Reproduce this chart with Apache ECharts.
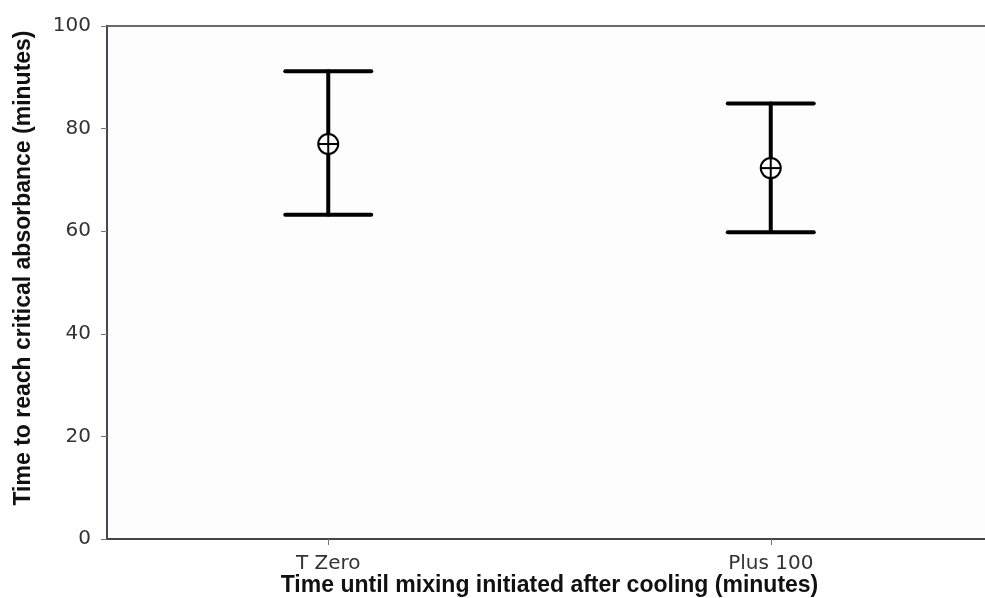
<!DOCTYPE html>
<html>
<head>
<meta charset="utf-8">
<script src="https://cdn.jsdelivr.net/npm/echarts@6/dist/echarts.min.js"></script>
<style>
  html, body { margin: 0; padding: 0; background: #ffffff; }
  #chart { width: 985px; height: 598px; }
</style>
</head>
<body>
<div id="chart"></div>
<script>
// Group labels along the horizontal axis
const categories = ['T Zero', 'Plus 100'];
// Mean time (minutes) and the error bar limits for each group
const means = [77.0, 72.3];
const upper = [91.2, 84.9];
const lower = [63.2, 59.8];
// Value axis ticks
const yTicks = [0, 20, 40, 60, 80, 100];

const errorData = categories.map((c, i) => [i, lower[i], upper[i]]);
const meanData = categories.map((c, i) => [i, means[i]]);

const chart = echarts.init(document.getElementById('chart'), null, { renderer: 'canvas' });

const option = {
  backgroundColor: '#ffffff',
  animation: false,
  grid: {
    left: 107, top: 26, width: 885, bottom: 59,
    outerBoundsMode: 'none',
    containLabel: false,
    show: true, borderColor: '#6a6a6a', borderWidth: 2, backgroundColor: '#fdfdfd'
  },
  xAxis: {
    type: 'category',
    data: categories,
    boundaryGap: true,
    name: 'Time until mixing initiated after cooling (minutes)',
    nameLocation: 'middle',
    nameGap: 47,
    nameMoveOverlap: false,
    nameTextStyle: {
      fontFamily: 'Liberation Sans', fontWeight: 'bold', fontSize: 23, color: '#111',
      verticalAlign: 'middle'
    },
    axisLine: { show: true, lineStyle: { color: '#444', width: 2 } },
    axisTick: { show: true, alignWithLabel: true, inside: false, length: 6, lineStyle: { color: '#777', width: 1 } },
    axisLabel: { fontFamily: 'DejaVu Sans', fontSize: 20, color: '#333', margin: 15 },
    splitLine: { show: false }
  },
  yAxis: {
    type: 'value',
    min: yTicks[0],
    max: yTicks[yTicks.length - 1],
    interval: 20,
    axisLine: { show: true, lineStyle: { color: '#474755', width: 2 } },
    axisTick: { show: true, length: 6, lineStyle: { color: '#777', width: 1 } },
    axisLabel: { fontFamily: 'DejaVu Sans', fontSize: 20, color: '#333', margin: 16 },
    splitLine: { show: false }
  },
  graphic: [
    {
      type: 'text',
      x: 24, y: 268,
      rotation: Math.PI / 2,
      style: {
        text: 'Time to reach critical absorbance (minutes)',
        font: 'bold 23px "Liberation Sans"',
        fill: '#111',
        align: 'center',
        verticalAlign: 'middle'
      }
    }
  ],
  series: [
    {
      type: 'custom',
      name: 'range',
      data: errorData,
      encode: { x: 0, y: [1, 2] },
      renderItem: function (params, api) {
        const x = api.value(0);
        const lo = api.coord([x, api.value(1)]);
        const hi = api.coord([x, api.value(2)]);
        const half = 43;
        const style = { stroke: '#000', lineWidth: 4, lineCap: 'round' };
        return {
          type: 'group',
          children: [
            { type: 'line', shape: { x1: lo[0], y1: lo[1], x2: hi[0], y2: hi[1] }, style: style },
            { type: 'line', shape: { x1: hi[0] - half, y1: hi[1], x2: hi[0] + half, y2: hi[1] }, style: style },
            { type: 'line', shape: { x1: lo[0] - half, y1: lo[1], x2: lo[0] + half, y2: lo[1] }, style: style }
          ]
        };
      },
      z: 2
    },
    {
      type: 'custom',
      name: 'mean',
      data: meanData,
      encode: { x: 0, y: 1 },
      renderItem: function (params, api) {
        const p = api.coord([api.value(0), api.value(1)]);
        const r = 10;
        const s = { stroke: '#000', lineWidth: 2 };
        return {
          type: 'group',
          children: [
            { type: 'circle', shape: { cx: p[0], cy: p[1], r: r }, style: { fill: '#fff', stroke: '#000', lineWidth: 2 } },
            { type: 'line', shape: { x1: p[0] - r, y1: p[1], x2: p[0] + r, y2: p[1] }, style: s },
            { type: 'line', shape: { x1: p[0], y1: p[1] - r, x2: p[0], y2: p[1] + r }, style: s }
          ]
        };
      },
      z: 3
    }
  ]
};

chart.setOption(option);
</script>
</body>
</html>
